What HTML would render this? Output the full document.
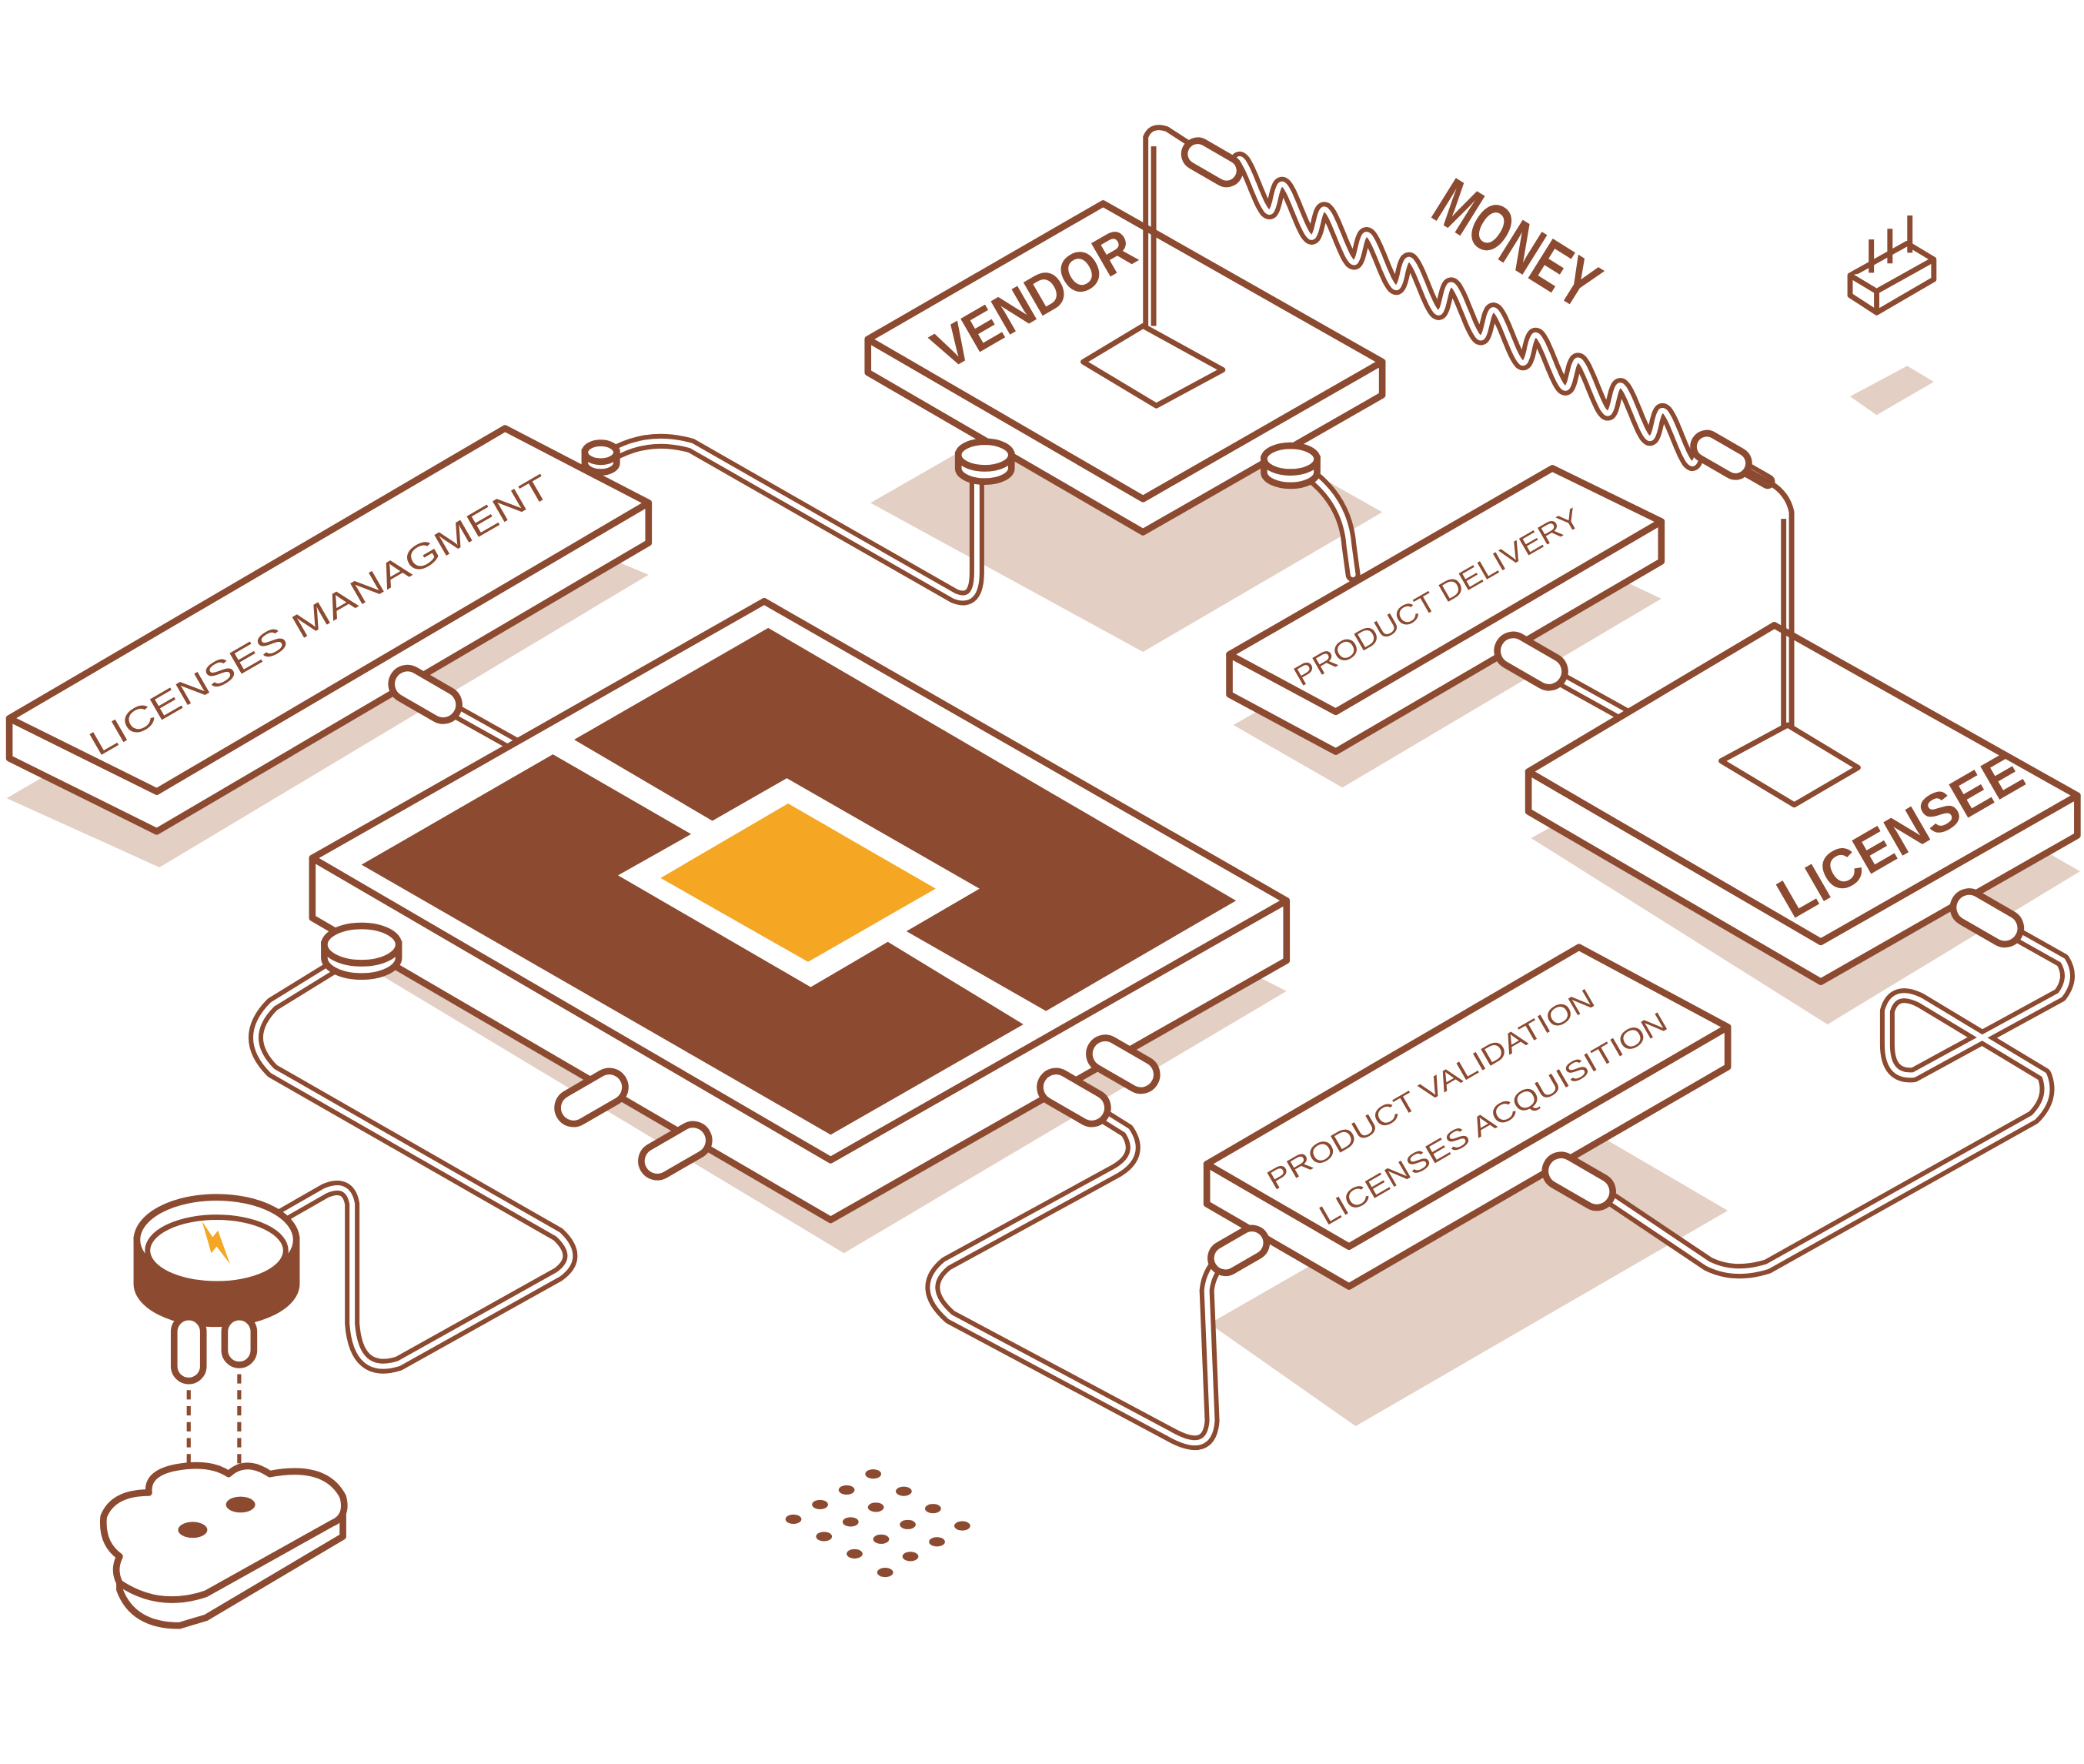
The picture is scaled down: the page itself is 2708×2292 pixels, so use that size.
<!DOCTYPE html>
<html><head><meta charset="utf-8"><style>
html,body{margin:0;padding:0;background:#fff;}
svg{display:block;}
text{font-family:"Liberation Sans",sans-serif;fill:#8c4a30;}
</style></head><body>
<svg id="s" width="2708" height="2292" viewBox="0 0 1568 1326" preserveAspectRatio="none" xmlns="http://www.w3.org/2000/svg">
<g fill="#e3cfc3">
<polygon points="655,378 840,272 1040,385 860,490"/>
<polygon points="928,545 1165,410 1250,450 1010,592"/>
<polygon points="5,600 375,385 488,432 120,652"/>
<polygon points="1152,630 1340,525 1565,655 1375,770"/>
<polygon points="265,720 570,545 968,745 635,942"/>
<polygon points="910,995 1180,840 1300,910 1020,1072"/>
<polygon points="1392,298 1435,275 1455,287 1412,312"/>
</g>
<g id="cables" fill="none" stroke-linecap="round" stroke-linejoin="round"></g>
<g id="slabs" stroke="#8c4a30" stroke-width="5" stroke-linejoin="round"></g>
<g fill="#8c4a30">
<polygon points="272,650 416,567 520,627 465,658 610,742 668,708 770,770 625,853"/>
<polygon points="432,556 578,472 930,677 787,760 682,700 737,668 592,585 536,617"/>
</g>
<polygon points="497,660 593,604 704,668 608,723" fill="#f5a623"/>
<g fill="none" stroke="#8c4a30" stroke-width="4" stroke-linejoin="round">
<polygon points="815,272 860,245 920,278 870,305"/>
<polygon points="1295,572 1345,545 1398,577 1350,605"/>
<path d="M862,245 L862,103 Q866,93 878,97 L895,108"/>
<path d="M1348,547 L1348,385 Q1345,370 1330,362 L1312,352"/>
<path d="M868,245 L868,110" />
<path d="M1342,547 L1342,390" />
</g>
<g id="pills" stroke="#8c4a30" stroke-width="5" fill="#fff"></g>
<text transform="translate(245,470) rotate(-30)" text-anchor="middle" font-size="26" textLength="395" lengthAdjust="spacingAndGlyphs">LICENSES MANAGMENT</text>
<text transform="translate(1085,455) rotate(-30)" text-anchor="middle" font-size="21" textLength="245" lengthAdjust="spacingAndGlyphs">PRODUCT DELIVERY</text>
<text transform="translate(1080,825) rotate(-30)" text-anchor="middle" font-size="21" textLength="280" lengthAdjust="spacingAndGlyphs">PRODUCT VALIDATION</text>
<text transform="translate(1127,847) rotate(-30)" text-anchor="middle" font-size="21" textLength="298" lengthAdjust="spacingAndGlyphs">LICENSES ACQUISITION</text>
<text transform="translate(785,237) rotate(-30)" text-anchor="middle" font-size="42" font-weight="bold" textLength="168" lengthAdjust="spacingAndGlyphs">VENDOR</text>
<text transform="translate(1437,640) rotate(-30)" text-anchor="middle" font-size="42" font-weight="bold" textLength="205" lengthAdjust="spacingAndGlyphs">LICENSEE</text>
<text transform="translate(1132,198) rotate(32) scale(1,1.5)" text-anchor="middle" font-size="34" font-weight="bold" textLength="135" lengthAdjust="spacingAndGlyphs">MONEY</text>
<g stroke="#8c4a30" stroke-width="5">
<path d="M103,932 L103,965 A60,30 0 0 0 223,965 L223,932 Z" fill="#8c4a30"/>
<ellipse cx="163" cy="932" rx="60" ry="32" fill="#fff"/>
<ellipse cx="163" cy="940" rx="52" ry="25" fill="#fff" stroke-width="4"/>
<rect x="131" y="990" width="22" height="48" rx="11" fill="#fff"/>
<rect x="169" y="990" width="22" height="36" rx="11" fill="#fff"/>
</g>
<polygon points="152,918 160,930 164,925 173,950 163,937 159,942" fill="#f5a623"/>
<g stroke="#8c4a30" stroke-width="3" stroke-dasharray="7,5"><line x1="142" y1="1045" x2="142" y2="1130"/><line x1="180" y1="1033" x2="180" y2="1110"/></g>
<g stroke="#8c4a30" stroke-width="5" fill="#fff" stroke-linejoin="round">
<path d="M90,1172 L90,1195 Q100,1222 135,1222 L155,1216 L258,1155 L258,1135 Z"/>
<path d="M90,1170 Q76,1160 78,1140 Q85,1122 112,1122 Q110,1105 140,1102 Q160,1100 172,1108 Q185,1096 203,1108 Q245,1100 258,1125 Q262,1140 250,1145 L155,1198 Q120,1210 90,1190 Q85,1180 90,1170Z"/>
</g>
<ellipse cx="145" cy="1150" rx="11" ry="6" fill="#8c4a30"/>
<ellipse cx="181" cy="1131" rx="11" ry="6" fill="#8c4a30"/>
<g stroke="#8c4a30" stroke-width="4" fill="#fff" stroke-linejoin="round">
<path d="M1392,207 L1392,222 L1412,235 L1455,210 L1455,195 L1435,183 Z"/>
<path d="M1392,207 L1412,219 L1455,195 M1412,219 L1412,235"/>
<path d="M1408,205 L1408,180 M1422,198 L1422,172 M1437,190 L1437,162" fill="none"/>
</g>
<g id="dots" fill="#8c4a30"></g>
</svg>
<script>
var NS="http://www.w3.org/2000/svg",B="#8c4a30";
function el(p,t,a){var e=document.createElementNS(NS,t);for(var k in a)e.setAttribute(k,a[k]);document.getElementById(p).appendChild(e);return e;}
function slab(L,T,R,Bo,h){
 var pts=function(a){return a.map(function(p){return p[0]+","+p[1]}).join(" ")};
 el("slabs","polygon",{points:pts([L,Bo,R,[R[0],R[1]+h],[Bo[0],Bo[1]+h],[L[0],L[1]+h]]),fill:"#fff"});
 el("slabs","polygon",{points:pts([L,T,R,Bo]),fill:"#fff"});
}
slab([653,255],[830,153],[1040,272],[860,375],25);
slab([1150,580],[1335,470],[1563,598],[1370,708],30);
slab([7,540],[380,322],[488,378],[118,595],30);
slab([925,492],[1168,352],[1250,392],[1005,535],30);
slab([908,875],[1188,712],[1300,772],[1015,937],30);
slab([235,645],[575,452],[968,677],[625,872],45);
function cable(d){el("cables","path",{d:d,stroke:B,"stroke-width":11});el("cables","path",{d:d,stroke:"#fff","stroke-width":4});}
cable("M455,345 Q485,325 520,335 L718,448 Q735,455 735,430 L735,350");
cable("M972,348 Q1012,370 1015,410 L1018,432");
cable("M1150,497 L1222,537");
cable("M1495,690 L1552,722 Q1560,735 1550,748 L1440,808 Q1420,810 1420,785 L1420,760 Q1425,742 1445,752 L1538,808 Q1545,825 1530,840 L1330,952 Q1305,960 1285,950 L1200,893");
cable("M270,715 L205,755 Q180,780 205,805 L420,928 Q438,945 420,958 L300,1025 Q268,1035 265,995 L265,905 Q262,888 245,895 L210,915");
cable("M808,825 L848,850 Q860,868 840,880 L712,950 Q690,968 715,990 L880,1078 Q910,1095 912,1068 L908,970 Q910,950 930,940");
cable("M320,522 L388,560");
var d="M928,130";for(var i=0;i<=400;i++){var t=i/400,x=928+t*350,y=130+t*208,w=-Math.sin(t*Math.PI*22)*15;d+=" L"+(x+w*0.15).toFixed(1)+","+(y+w).toFixed(1);}
cable(d);
cable("M1295,342 L1330,362");
el("pills","path",{d:"M440,340 L440,348 A12,7 0 0 0 464,348 L464,340 Z"});
el("pills","ellipse",{cx:452,cy:340,rx:12,ry:7});
function pill(cx,cy,len,r,ang){el("pills","rect",{x:cx-len/2,y:cy-r,width:len,height:2*r,rx:r,transform:"rotate("+ang+" "+cx+" "+cy+")"});}
pill(912,122,45,10,30);pill(1295,342,45,10,30);
pill(320,522,55,12,30);pill(1152,497,55,12,30);pill(1495,690,55,12,30);pill(1188,888,55,12,30);
pill(445,825,55,12,-30);pill(508,865,55,12,-30);pill(845,800,55,12,30);pill(808,825,55,12,30);pill(932,940,45,11,-30);
[[741,342],[971,345],[272,710]].forEach(function(p){var s=p[0]==272?1.4:1;
 el("pills","path",{d:"M"+(p[0]-20*s)+","+p[1]+" L"+(p[0]-20*s)+","+(p[1]+10)+" A"+20*s+","+10*s+" 0 0 0 "+(p[0]+20*s)+","+(p[1]+10)+" L"+(p[0]+20*s)+","+p[1]+" Z"});
 el("pills","ellipse",{cx:p[0],cy:p[1],rx:20*s,ry:10*s});});
[[657,1108],[637,1120],[680,1121],[617,1131],[659,1133],[702,1134],[597,1142],[640,1144],[683,1146],[724,1147],[620,1155],[663,1157],[705,1159],[643,1168],[685,1170],[666,1182]].forEach(function(p){el("dots","ellipse",{cx:p[0],cy:p[1],rx:6,ry:3.5});});
</script>
</body></html>
